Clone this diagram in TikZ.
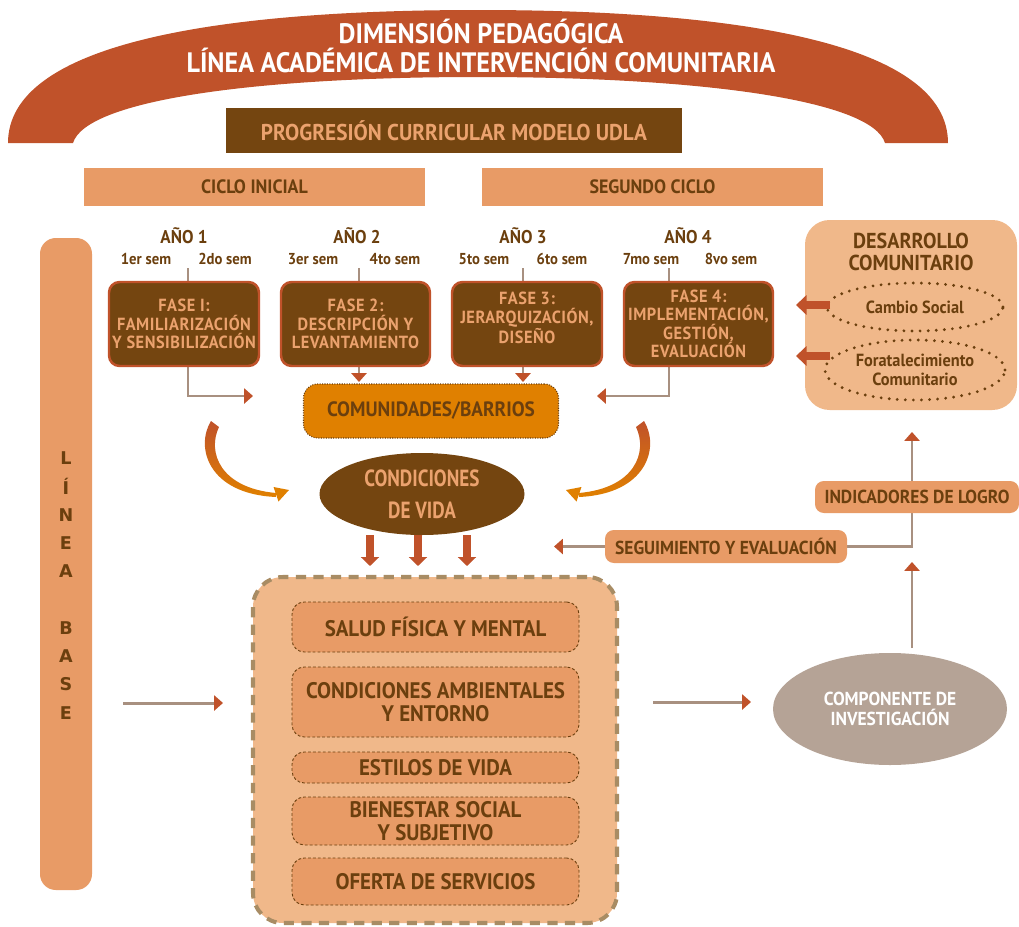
\documentclass[tikz,border=0pt]{standalone}
\usepackage{fontspec}
\setmainfont{PT Sans}[FakeStretch=0.93]
\newfontfamily\condfont{PT Sans}[FakeStretch=0.82]
\newfontfamily\fasefont{PT Sans}[FakeStretch=0.93, LetterSpace=3]
\newfontfamily\widefont{DejaVu Sans}
\usetikzlibrary{arrows.meta,shapes.geometric,backgrounds}
\definecolor{rust}{HTML}{C0522A}
\definecolor{dbrown}{HTML}{744510}
\definecolor{tbrown}{HTML}{6B3F0E}
\definecolor{peach}{HTML}{E89B66}
\definecolor{lpeach}{HTML}{F0B88A}
\definecolor{orng}{HTML}{E08000}
\definecolor{taupe}{HTML}{A89080}
\definecolor{compc}{HTML}{B5A396}
\definecolor{dashc}{HTML}{A88C64}
\definecolor{ltext}{HTML}{EBA26E}
\begin{document}
\begin{tikzpicture}[x=0.02cm,y=-0.02cm,
  sz/.style 2 args={minimum width=#1*0.02cm, minimum height=#2*0.02cm, inner sep=0pt},
  fs/.style={font=\linespread{1.05}\fontsize{#1}{#1}\selectfont\bfseries},
  lbl/.style={text=tbrown, align=center, inner sep=0pt},
  fase/.style={draw=rust, line width=1.4pt, fill=dbrown, rounded corners=6pt, text=ltext, align=center, font=\fasefont\linespread{1.05}\fontsize{10}{10}\selectfont\bfseries},
  pbox/.style={fill=peach, rounded corners=5pt, text=tbrown, align=center},
  inbox/.style={fill=peach, draw=tbrown, dash pattern=on 1.6pt off 1.2pt, line width=0.5pt, rounded corners=7pt, text=tbrown, align=center, fs=12.8},
  conn/.style={draw=taupe, line width=1.7pt, -{Triangle[color=rust,length=5pt,width=8.5pt]}},
  fatarrow/.style={draw=rust, line width=4pt, -{Triangle[color=rust,length=5pt,width=10pt]}},
  dotell/.style={ellipse, draw=tbrown, line width=1.8pt, dash pattern=on 0pt off 4.6pt, line cap=round, text=tbrown, align=center}
]
\useasboundingbox (0,0) rectangle (1019,927);

% ---- arc ----
\fill[rust] (8,143) .. controls (8,45) and (210,10) .. (478,10)
  .. controls (746,10) and (948,45) .. (948,143) -- (885,143)
  .. controls (872,100) and (700,77) .. (478,77)
  .. controls (256,77) and (86,100) .. (73,143) -- cycle;
\node[text=white, align=center, fs=16, inner sep=0pt] (title) at (481,46)
  {DIMENSIÓN PEDAGÓGICA\\LÍNEA ACADÉMICA DE INTERVENCIÓN COMUNITARIA};

\node[fill=dbrown, sz={456}{45}, text=ltext, fs=13] (prog) at (454,130.5) {PROGRESIÓN CURRICULAR MODELO UDLA};

\node[fill=peach, sz={341}{38}, text=tbrown, fs=11] (ci) at (254.5,187) {CICLO INICIAL};
\node[fill=peach, sz={341}{38}, text=tbrown, fs=11] (sc) at (652.5,187) {SEGUNDO CICLO};

% years
\node[lbl, fs=10.5] (a1) at (184,236) {AÑO 1};
\node[lbl, fs=10.5] (a2) at (357,236) {AÑO 2};
\node[lbl, fs=10.5] (a3) at (523,236) {AÑO 3};
\node[lbl, fs=10.5] (a4) at (688,236) {AÑO 4};
\node[lbl, fs=9] (s1) at (146,259) {1er sem};
\node[lbl, fs=9] (s2) at (225,259) {2do sem};
\node[lbl, fs=9] (s3) at (313,259) {3er sem};
\node[lbl, fs=9] (s4) at (395,259) {4to sem};
\node[lbl, fs=9] (s5) at (484,259) {5to sem};
\node[lbl, fs=9] (s6) at (562,259) {6to sem};
\node[lbl, fs=9] (s7) at (651,259) {7mo sem};
\node[lbl, fs=9] (s8) at (731,259) {8vo sem};

% phases
\node[fase, sz={150}{84}] (f1) at (184,324) {FASE I:\\FAMILIARIZACIÓN\\Y SENSIBILIZACIÓN};
\node[fase, sz={149}{84}] (f2) at (355.5,324) {FASE 2:\\DESCRIPCIÓN Y\\LEVANTAMIENTO};
\node[fase, sz={150}{84}] (f3) at (527,324) {};
\node[fase, draw=none, fill=none, inner sep=0pt] (f3t) at (527,318) {FASE 3:\\JERARQUIZACIÓN,\\DISEÑO};
\node[fase, sz={149}{84}] (f4) at (698.5,324) {FASE 4:\\IMPLEMENTACIÓN,\\GESTIÓN,\\EVALUACIÓN};

\node[fill=orng, draw=tbrown, dash pattern=on 0.6pt off 0.8pt, line width=0.6pt, rounded corners=8pt, sz={255}{54}, text=tbrown, fs=11.8] (cb) at (431,411) {COMUNIDADES/BARRIOS};

\node[ellipse, fill=dbrown, sz={205}{82}, text=ltext, align=center, font=\condfont\fontsize{13.3}{13.3}\selectfont\bfseries] (cv) at (422,494) {CONDICIONES\\[5pt]DE VIDA};

% curved arrows
\shade[top color=rust, bottom color=orng]
  (211,421) .. controls (195,447) and (208,494) .. (276,497)
  -- (276,493) .. controls (220,488) and (207,452) .. (219,427) -- cycle;
\fill[orng] (289,490) -- (278.5,501.5) -- (273.5,487) -- cycle;
\shade[top color=rust, bottom color=orng]
  (644,421) .. controls (660,447) and (647,494) .. (579,497)
  -- (579,493) .. controls (635,488) and (648,452) .. (636,427) -- cycle;
\fill[orng] (566,490) -- (576.5,501.5) -- (581.5,487) -- cycle;

% three arrows
\coordinate (d1a) at (370,535); \coordinate (d1b) at (370,566);
\coordinate (d2a) at (418,535); \coordinate (d2b) at (418,566);
\coordinate (d3a) at (467,535); \coordinate (d3b) at (467,566);
\draw[fatarrow] (d1a) -- (d1b);
\draw[fatarrow] (d2a) -- (d2b);
\draw[fatarrow] (d3a) -- (d3b);

% linea base
\node[fill=peach, rounded corners=9pt, sz={52}{652}] (lb) at (66,564) {};
\foreach \ch [count=\i from 0] in {L,Í,N,E,A,{},B,A,S,E}
  \node[text=tbrown, font=\widefont\bfseries\fontsize{10}{10}\selectfont, inner sep=0pt] (lb\i) at (66,458+28.3*\i) {\ch};

% big box
\node[fill=lpeach, draw=dashc, dash pattern=on 5.8pt off 4.2pt, line width=2.3pt, rounded corners=17pt, sz={364}{346}] (big) at (435,750) {};
\node[inbox, sz={287}{50}] (b1) at (435.5,627) {SALUD FÍSICA Y MENTAL};
\node[inbox, sz={287}{70}] (b2) at (435.5,702) {CONDICIONES AMBIENTALES\\Y ENTORNO};
\node[inbox, sz={287}{31}] (b3) at (435.5,767.5) {ESTILOS DE VIDA};
\node[inbox, sz={287}{48}] (b4) at (435.5,821) {BIENESTAR SOCIAL\\Y SUBJETIVO};
\node[inbox, sz={287}{47}] (b5) at (435.5,881.5) {OFERTA DE SERVICIOS};

% componente
\node[ellipse, fill=compc, sz={234}{112}, text=white, align=center, fs=10.7] (comp) at (890,709) {COMPONENTE DE\\INVESTIGACIÓN};

% right side boxes
\node[pbox, sz={242}{33}, fs=10.7] (seg) at (726,546.5) {SEGUIMIENTO Y EVALUACIÓN};
\node[pbox, sz={204}{32}, fs=10.7] (ind) at (917,497) {INDICADORES DE LOGRO};

% desarrollo comunitario
\node[fill=lpeach, rounded corners=14pt, sz={212}{190}] (dc) at (911,315) {};
\node[lbl, fs=12.3] (dct) at (911,252) {DESARROLLO\\COMUNITARIO};
\node[dotell, sz={176}{48}, fs=10] (cs) at (915,307) {Cambio Social};
\node[dotell, sz={180}{60}, fs=10] (fc) at (915,370) {Foratalecimiento\\Comunitario};

% ---- connectors ----
\begin{scope}[on background layer]
\coordinate (t1) at (188,268); \coordinate (t1b) at (188,282);
\coordinate (t2) at (359,268); \coordinate (t2b) at (359,282);
\coordinate (t3) at (523,268); \coordinate (t3b) at (523,282);
\coordinate (t4) at (669,268); \coordinate (t4b) at (669,282);
\draw[taupe, line width=1.7pt] (t1) -- (t1b);
\draw[taupe, line width=1.7pt] (t2) -- (t2b);
\draw[taupe, line width=1.7pt] (t3) -- (t3b);
\draw[taupe, line width=1.7pt] (t4) -- (t4b);
\coordinate (f1b) at (188,366); \coordinate (f1e) at (253,396);
\coordinate (f2b) at (359,366); \coordinate (f2e) at (359,382);
\coordinate (f3b) at (523,366); \coordinate (f3e) at (523,382);
\coordinate (f4b) at (669,366); \coordinate (f4e) at (597,396);
\draw[conn] (f1b) |- (f1e);
\draw[conn] (f2b) -- (f2e);
\draw[conn] (f3b) -- (f3e);
\draw[conn] (f4b) |- (f4e);
\coordinate (lbs) at (123,703); \coordinate (lbe) at (223,703);
\draw[conn] (lbs) -- (lbe);
\coordinate (bgs) at (653,702); \coordinate (bge) at (751,702);
\draw[conn] (bgs) -- (bge);
\coordinate (cps) at (912,648); \coordinate (cpe) at (912,562);
\draw[conn] (cps) -- (cpe);
\coordinate (sge) at (554,546.5);
\draw[conn] (seg.west) -- (sge);
\coordinate (ine) at (912,432);
\draw[conn] (seg.east) -| (ine);
\end{scope}
\coordinate (ca1) at (830,305); \coordinate (ca2) at (796,305);
\coordinate (cb1) at (830,356); \coordinate (cb2) at (796,356);
\draw[draw=rust, line width=4.5pt, -{Triangle[color=rust,length=6pt,width=11pt]}] (ca1) -- (ca2);
\draw[draw=rust, line width=4.5pt, -{Triangle[color=rust,length=6pt,width=11pt]}] (cb1) -- (cb2);
\end{tikzpicture}
\end{document}
